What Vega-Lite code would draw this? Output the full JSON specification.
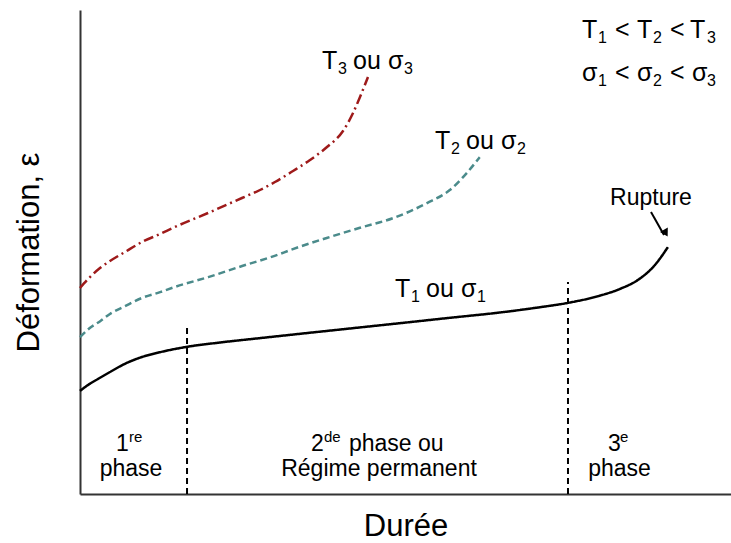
{
  "$schema": "https://vega.github.io/schema/vega-lite/v6.json",
  "width": 651,
  "height": 484,
  "autosize": "none",
  "padding": {"left": 80, "top": 10, "right": 0, "bottom": 49},
  "config": {"view": {"stroke": null}, "font": "Liberation Sans", "text": {"font": "Liberation Sans"}},
  "resolve": {"axis": {"x": "independent", "y": "independent"}},
  "datasets": {
    "curves": [
      {"x": 0, "y": 21.3, "s": "T1"}, {"x": 1.2, "y": 22.5, "s": "T1"}, {"x": 2.8, "y": 23.8, "s": "T1"}, {"x": 4.6, "y": 25.2, "s": "T1"}, {"x": 6.9, "y": 26.9, "s": "T1"}, {"x": 9.5, "y": 28.3, "s": "T1"}, {"x": 12.3, "y": 29.3, "s": "T1"}, {"x": 16.4, "y": 30.4, "s": "T1"}, {"x": 21.5, "y": 31.3, "s": "T1"}, {"x": 27.6, "y": 32.2, "s": "T1"}, {"x": 33.8, "y": 33.1, "s": "T1"}, {"x": 41.5, "y": 34.2, "s": "T1"}, {"x": 49.2, "y": 35.3, "s": "T1"}, {"x": 56.8, "y": 36.4, "s": "T1"}, {"x": 64.5, "y": 37.5, "s": "T1"}, {"x": 70.7, "y": 38.6, "s": "T1"}, {"x": 75.0, "y": 39.5, "s": "T1"}, {"x": 79.9, "y": 41.0, "s": "T1"}, {"x": 83.0, "y": 42.4, "s": "T1"}, {"x": 86.0, "y": 44.5, "s": "T1"}, {"x": 88.3, "y": 47.3, "s": "T1"}, {"x": 90.3, "y": 51.0, "s": "T1"},
      {"x": 0, "y": 32.4, "s": "T2"}, {"x": 1.5, "y": 34.3, "s": "T2"}, {"x": 3.1, "y": 35.7, "s": "T2"}, {"x": 4.6, "y": 37.2, "s": "T2"}, {"x": 6.9, "y": 38.8, "s": "T2"}, {"x": 9.5, "y": 40.5, "s": "T2"}, {"x": 12.3, "y": 41.7, "s": "T2"}, {"x": 14.6, "y": 42.8, "s": "T2"}, {"x": 19.7, "y": 44.8, "s": "T2"}, {"x": 24.9, "y": 47.1, "s": "T2"}, {"x": 29.9, "y": 49.2, "s": "T2"}, {"x": 32.7, "y": 50.6, "s": "T2"}, {"x": 37.9, "y": 52.9, "s": "T2"}, {"x": 43.0, "y": 55.0, "s": "T2"}, {"x": 48.1, "y": 57.0, "s": "T2"}, {"x": 53.3, "y": 60.1, "s": "T2"}, {"x": 56.8, "y": 62.8, "s": "T2"}, {"x": 59.4, "y": 66.3, "s": "T2"}, {"x": 61.4, "y": 69.6, "s": "T2"},
      {"x": 0, "y": 42.56, "s": "T3"}, {"x": 1.54, "y": 44.83, "s": "T3"}, {"x": 3.07, "y": 46.69, "s": "T3"}, {"x": 4.61, "y": 48.14, "s": "T3"}, {"x": 6.91, "y": 50.0, "s": "T3"}, {"x": 9.52, "y": 52.07, "s": "T3"}, {"x": 12.29, "y": 53.72, "s": "T3"}, {"x": 14.59, "y": 55.17, "s": "T3"}, {"x": 19.66, "y": 58.06, "s": "T3"}, {"x": 24.88, "y": 61.16, "s": "T3"}, {"x": 27.65, "y": 62.81, "s": "T3"}, {"x": 29.95, "y": 64.46, "s": "T3"}, {"x": 32.72, "y": 66.74, "s": "T3"}, {"x": 35.33, "y": 69.01, "s": "T3"}, {"x": 37.94, "y": 71.69, "s": "T3"}, {"x": 40.4, "y": 75.0, "s": "T3"}, {"x": 41.94, "y": 78.72, "s": "T3"}, {"x": 43.01, "y": 82.02, "s": "T3"}, {"x": 44.24, "y": 86.16, "s": "T3"}
    ],
    "phases": [
      {"x": 16.44, "y": 0, "y2": 34.9},
      {"x": 74.96, "y": 0, "y2": 43.8}
    ],
    "arrow": [
      {"x": 87.71, "y": 58.26, "x2": 89.71, "y2": 53.51}
    ],
    "arrowhead": [
      {"x": 89.98, "y": 53.9}
    ],
    "labels": [
      {"x": 37.17, "y": 87.81, "t": "T", "k": "main"},
      {"x": 39.63, "y": 86.78, "t": "3", "k": "sub"},
      {"x": 41.94, "y": 87.81, "t": "ou", "k": "main"},
      {"x": 47.31, "y": 87.81, "t": "σ", "k": "main"},
      {"x": 49.77, "y": 86.78, "t": "3", "k": "sub"},
      {"x": 54.53, "y": 71.28, "t": "T", "k": "main"},
      {"x": 56.99, "y": 70.25, "t": "2", "k": "sub"},
      {"x": 59.29, "y": 71.28, "t": "ou", "k": "main"},
      {"x": 64.67, "y": 71.28, "t": "σ", "k": "main"},
      {"x": 67.13, "y": 70.25, "t": "2", "k": "sub"},
      {"x": 48.39, "y": 40.7, "t": "T", "k": "main"},
      {"x": 50.84, "y": 39.67, "t": "1", "k": "sub"},
      {"x": 53.15, "y": 40.7, "t": "ou", "k": "main"},
      {"x": 58.53, "y": 40.7, "t": "σ", "k": "main"},
      {"x": 61.0, "y": 39.67, "t": "1", "k": "sub"},
      {"x": 77.11, "y": 94.21, "t": "T", "k": "main"},
      {"x": 79.57, "y": 93.18, "t": "1", "k": "sub"},
      {"x": 82.18, "y": 94.21, "t": "<", "k": "main"},
      {"x": 85.56, "y": 94.21, "t": "T", "k": "main"},
      {"x": 88.02, "y": 93.18, "t": "2", "k": "sub"},
      {"x": 90.63, "y": 94.21, "t": "<", "k": "main"},
      {"x": 93.7, "y": 94.21, "t": "T", "k": "main"},
      {"x": 96.31, "y": 93.18, "t": "3", "k": "sub"},
      {"x": 77.11, "y": 85.33, "t": "σ", "k": "main"},
      {"x": 79.57, "y": 84.3, "t": "1", "k": "sub"},
      {"x": 82.18, "y": 85.33, "t": "<", "k": "main"},
      {"x": 85.56, "y": 85.33, "t": "σ", "k": "main"},
      {"x": 88.02, "y": 84.3, "t": "2", "k": "sub"},
      {"x": 90.63, "y": 85.33, "t": "<", "k": "main"},
      {"x": 94.0, "y": 85.33, "t": "σ", "k": "main"},
      {"x": 96.31, "y": 84.3, "t": "3", "k": "sub"},
      {"x": 5.53, "y": 8.88, "t": "1", "k": "phase"},
      {"x": 7.53, "y": 10.74, "t": "re", "k": "sup"},
      {"x": 35.48, "y": 8.88, "t": "2", "k": "phase"},
      {"x": 37.48, "y": 10.74, "t": "de", "k": "sup"},
      {"x": 41.32, "y": 8.88, "t": "phase ou", "k": "phase"},
      {"x": 81.1, "y": 8.88, "t": "3", "k": "phase"},
      {"x": 82.95, "y": 10.74, "t": "e", "k": "sup"},
      {"x": 7.83, "y": 3.72, "t": "phase", "k": "center"},
      {"x": 45.93, "y": 3.72, "t": "Régime permanent", "k": "center"},
      {"x": 82.87, "y": 3.72, "t": "phase", "k": "center"},
      {"x": 87.71, "y": 59.71, "t": "Rupture", "k": "center"}
    ]
  },
  "layer": [
    {
      "data": {"name": "curves"},
      "mark": {"type": "line", "interpolate": "monotone", "strokeWidth": 2.5},
      "encoding": {
        "x": {"field": "x", "type": "quantitative", "scale": {"domain": [0, 100], "nice": false, "zero": false},
          "axis": {"title": "Durée", "ticks": false, "labels": false, "grid": false, "domainColor": "#333333", "domainWidth": 2, "titleFontSize": 31, "titleFontWeight": "normal", "titleColor": "#000000", "titleFont": "Liberation Sans", "titleY": 41, "titleBaseline": "alphabetic"}},
        "y": {"field": "y", "type": "quantitative", "scale": {"domain": [0, 100], "nice": false, "zero": false},
          "axis": {"title": "Déformation, ε", "ticks": false, "labels": false, "grid": false, "domainColor": "#333333", "domainWidth": 2, "titleFontSize": 31, "titleFontWeight": "normal", "titleColor": "#000000", "titleFont": "Liberation Sans", "titleX": -42, "titleY": 242, "titleAngle": 270, "titleAlign": "center", "titleBaseline": "alphabetic"}},
        "color": {"field": "s", "type": "nominal", "scale": {"domain": ["T1", "T2", "T3"], "range": ["#000000", "#4b8b8b", "#9e1a1a"]}, "legend": null},
        "strokeDash": {"field": "s", "type": "nominal", "scale": {"domain": ["T1", "T2", "T3"], "range": [[1, 0], [7, 4], [10, 4, 2, 4]]}, "legend": null}
      }
    },
    {
      "data": {"name": "phases"},
      "mark": {"type": "rule", "strokeDash": [6, 4], "strokeWidth": 2, "color": "#000000"},
      "encoding": {
        "x": {"field": "x", "type": "quantitative", "axis": null},
        "y": {"field": "y", "type": "quantitative", "axis": null},
        "y2": {"field": "y2"}
      }
    },
    {
      "data": {"name": "arrow"},
      "mark": {"type": "rule", "strokeWidth": 2, "color": "#000000"},
      "encoding": {
        "x": {"field": "x", "type": "quantitative", "axis": null},
        "y": {"field": "y", "type": "quantitative", "axis": null},
        "x2": {"field": "x2"},
        "y2": {"field": "y2"}
      }
    },
    {
      "data": {"name": "arrowhead"},
      "mark": {"type": "point", "shape": "triangle-down", "filled": true, "size": 80, "angle": 331, "color": "#000000", "opacity": 1},
      "encoding": {
        "x": {"field": "x", "type": "quantitative", "axis": null},
        "y": {"field": "y", "type": "quantitative", "axis": null}
      }
    },
    {
      "data": {"name": "labels"},
      "transform": [{"filter": "datum.k === 'main'"}],
      "mark": {"type": "text", "fontSize": 25, "align": "left", "baseline": "alphabetic", "color": "#000000"},
      "encoding": {
        "x": {"field": "x", "type": "quantitative", "axis": null},
        "y": {"field": "y", "type": "quantitative", "axis": null},
        "text": {"field": "t"}
      }
    },
    {
      "data": {"name": "labels"},
      "transform": [{"filter": "datum.k === 'sub'"}],
      "mark": {"type": "text", "fontSize": 16, "align": "left", "baseline": "alphabetic", "color": "#000000"},
      "encoding": {
        "x": {"field": "x", "type": "quantitative", "axis": null},
        "y": {"field": "y", "type": "quantitative", "axis": null},
        "text": {"field": "t"}
      }
    },
    {
      "data": {"name": "labels"},
      "transform": [{"filter": "datum.k === 'phase'"}],
      "mark": {"type": "text", "fontSize": 23, "align": "left", "baseline": "alphabetic", "color": "#000000"},
      "encoding": {
        "x": {"field": "x", "type": "quantitative", "axis": null},
        "y": {"field": "y", "type": "quantitative", "axis": null},
        "text": {"field": "t"}
      }
    },
    {
      "data": {"name": "labels"},
      "transform": [{"filter": "datum.k === 'sup'"}],
      "mark": {"type": "text", "fontSize": 15, "align": "left", "baseline": "alphabetic", "color": "#000000"},
      "encoding": {
        "x": {"field": "x", "type": "quantitative", "axis": null},
        "y": {"field": "y", "type": "quantitative", "axis": null},
        "text": {"field": "t"}
      }
    },
    {
      "data": {"name": "labels"},
      "transform": [{"filter": "datum.k === 'center'"}],
      "mark": {"type": "text", "fontSize": 23, "align": "center", "baseline": "alphabetic", "color": "#000000"},
      "encoding": {
        "x": {"field": "x", "type": "quantitative", "axis": null},
        "y": {"field": "y", "type": "quantitative", "axis": null},
        "text": {"field": "t"}
      }
    }
  ]
}
